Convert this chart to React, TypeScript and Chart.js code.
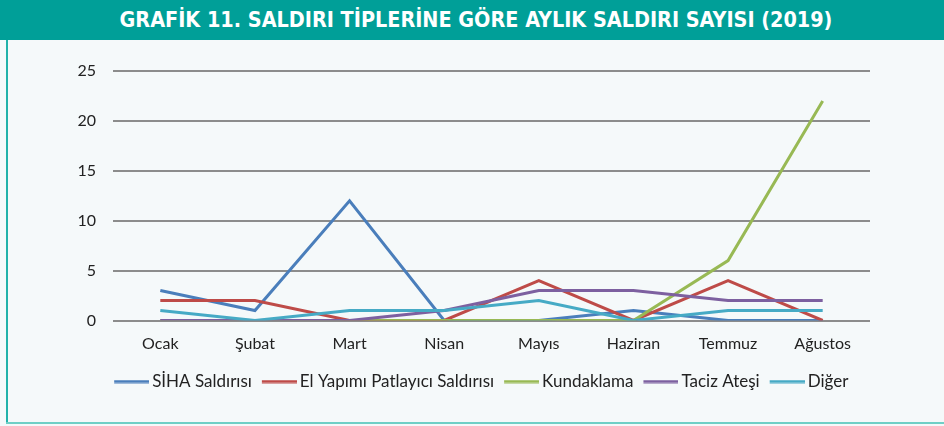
import React, { useEffect, useRef } from "react";
import { Chart, registerables } from "chart.js";

Chart.register(...registerables);

const months = ["Ocak", "Şubat", "Mart", "Nisan", "Mayıs", "Haziran", "Temmuz", "Ağustos"];
const siha = [3, 1, 12, 0, 0, 1, 0, 0];
const elYapimi = [2, 2, 0, 0, 4, 0, 4, 0];
const kundaklama = [0, 0, 0, 0, 0, 0, 6, 22];
const taciz = [0, 0, 0, 1, 3, 3, 2, 2];
const diger = [1, 0, 1, 1, 2, 0, 1, 1];
const seriesNames = ["SİHA Saldırısı", "El Yapımı Patlayıcı Saldırısı", "Kundaklama", "Taciz Ateşi", "Diğer"];
const seriesColors = ["#4a7ebb", "#be4b48", "#98b954", "#7d60a0", "#46aac5"];
const titleText = "GRAFİK 11. SALDIRI TİPLERİNE GÖRE AYLIK SALDIRI SAYISI (2019)";

function legendLine(color: string) {
  // canvas marker: centred at box centre, line shifted right so it sits near the text
  const c = document.createElement("canvas");
  c.width = 43;
  c.height = 4;
  const g = c.getContext("2d")!;
  g.fillStyle = color;
  g.fillRect(8, 0.5, 35, 3);
  return c;
}

const legendShift = {
  id: "legendShift",
  afterLayout(chart: any) {
    const L = chart.legend;
    if (!L) return;
    const shift = 480 - (L.left + L.right) / 2;
    L.left += shift;
    L.right += shift;
  },
};

export default function App() {
  const ref = useRef<HTMLCanvasElement | null>(null);
  useEffect(() => {
    document.body.style.margin = "0";
    const ctx = ref.current!;
    const all = [siha, elYapimi, kundaklama, taciz, diger];
    const chart = new Chart(ctx, {
      type: "line",
      data: {
        labels: months,
        datasets: all.map((d, i) => ({
          label: seriesNames[i],
          data: d,
          borderColor: seriesColors[i],
          backgroundColor: seriesColors[i],
          borderWidth: 3,
          pointRadius: 0,
          pointStyle: legendLine(seriesColors[i]) as any,
          tension: 0,
          order: all.length - 1 - i,
        })),
      },
      plugins: [legendShift],
      options: {
        animation: false,
        responsive: false,
        layout: { padding: { top: 71, left: 0, right: 74, bottom: 26 } },
        plugins: {
          tooltip: { enabled: false },
          legend: {
            position: "bottom",
            labels: {
              usePointStyle: true,
              pointStyleWidth: 32,
              boxHeight: 4,
              padding: 7.5,
              color: "#222",
              font: { family: "Lato", size: 17 },
              sort: (a: any, b: any) => a.datasetIndex - b.datasetIndex,
            },
          },
        },
        scales: {
          x: {
            offset: true,
            grid: { display: false, drawTicks: false },
            border: { display: false },
            ticks: { color: "#222", padding: 14, font: { family: "Lato", size: 16 }, maxRotation: 0 },
            afterFit: (s: any) => { s.height = 45; },
          },
          y: {
            min: 0,
            max: 25,
            ticks: { stepSize: 5, color: "#222", padding: 17, font: { family: "Lato", size: 16 } },
            grid: { color: "#8c8c8c", lineWidth: 2, drawTicks: false },
            border: { display: false },
            afterFit: (s: any) => { s.width = 113; },
          },
        },
      },
    });
    return () => chart.destroy();
  }, []);

  return (
    <div style={{ position: "relative", width: 944, height: 426, background: "#f5f9fa", overflow: "hidden" }}>
      <div
        style={{
          position: "absolute", left: 8, top: 0, width: 936, height: 40, background: "#009f98",
          color: "#fff", fontFamily: "'Liberation Sans Narrow', 'DejaVu Sans Condensed', sans-serif",
          fontWeight: "bold", fontSize: 21.4, lineHeight: "40px", textAlign: "center",
        }}
      >
        {titleText}
      </div>
      <div style={{ position: "absolute", left: 0, top: 0, width: 8, height: 40, background: "#009f98" }} />
      <div style={{ position: "absolute", left: 6, top: 40, width: 2, height: 383, background: "#22b2aa" }} />
      <div style={{ position: "absolute", left: 6, top: 422, width: 938, height: 2, background: "#6fcfc6" }} />
      <canvas ref={ref} width={944} height={426} style={{ position: "absolute", left: 0, top: 0 }} />
    </div>
  );
}
